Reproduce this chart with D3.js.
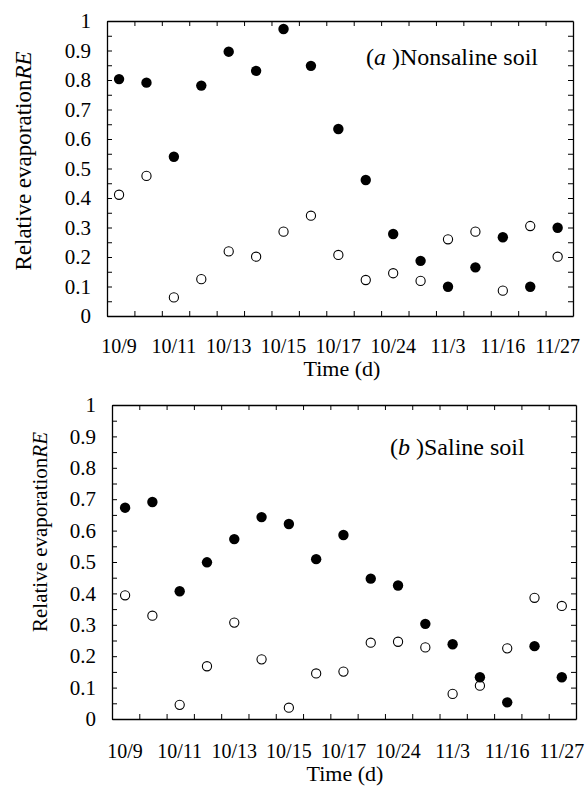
<!DOCTYPE html>
<meta charset="utf-8">
<script src="https://d3js.org/d3.v7.min.js"></script>
<style>
  body { margin: 0; background: #fff; }
  svg, svg text, svg tspan { font-family: "Liberation Serif", "DejaVu Serif", "Times New Roman", Times, serif !important; fill: #000; }
</style>
<div id="chart"></div>
<script>
// dates shown under every second point
var tickLabels = ["10/9", "10/11", "10/13", "10/15", "10/17", "10/24", "11/3", "11/16", "11/27"];

// (a) nonsaline soil
var nonsalineFilled = [0.803, 0.791, 0.540, 0.781, 0.896, 0.831, 0.973, 0.848, 0.634, 0.461,
                       0.278, 0.187, 0.099, 0.165, 0.267, 0.099, 0.299];
var nonsalineOpen   = [0.411, 0.475, 0.063, 0.125, 0.219, 0.201, 0.286, 0.340, 0.207, 0.122,
                       0.145, 0.119, 0.260, 0.286, 0.086, 0.305, 0.201];

// (b) saline soil
var salineFilled = [0.673, 0.691, 0.407, 0.499, 0.573, 0.643, 0.621, 0.509, 0.586, 0.447,
                    0.425, 0.303, 0.238, 0.133, 0.053, 0.232, 0.133];
var salineOpen   = [0.394, 0.329, 0.045, 0.168, 0.307, 0.190, 0.036, 0.145, 0.151, 0.243,
                    0.246, 0.228, 0.080, 0.106, 0.225, 0.386, 0.360];

var svg = d3.select("#chart").append("svg")
    .attr("width", 586)
    .attr("height", 786)
    .attr("font-family", "Liberation Serif, serif");

var panels = [
  { filled: nonsalineFilled, open: nonsalineOpen, label: "Nonsaline soil", letter: "a",
    left: 107, right: 573, top: 21, bottom: 316, offset: 0.44,
    yTitleX: 31, yTitleY: 161, yTitleSize: 23,
    tickY: 353, xTitleX: 342, xTitleY: 376, noteX: 366, noteY: 65 },
  { filled: salineFilled, open: salineOpen, label: "Saline soil", letter: "b",
    left: 112, right: 576, top: 405, bottom: 719, offset: 0.48,
    yTitleX: 47, yTitleY: 532, yTitleSize: 21,
    tickY: 758, xTitleX: 345, xTitleY: 781, noteX: 390, noteY: 455 }
];

panels.forEach(function(p) {
  var n = p.filled.length;
  var x = d3.scaleLinear().domain([0, n]).range([p.left, p.right]);
  var y = d3.scaleLinear().domain([0, 1]).range([p.bottom, p.top]);

  var yTicks = d3.range(0, 21).map(function(i) { return i / 20; });
  var xTicks = d3.range(1, n);
  var fmt = function(d) {
    return Math.round(d * 20) % 2 ? "" : String(+d.toFixed(1));
  };

  // frame with inward ticks on all four sides
  var gl = svg.append("g").attr("transform", "translate(" + p.left + ",0)")
    .call(d3.axisLeft(y).tickValues(yTicks).tickFormat(fmt)
      .tickSizeInner(-5).tickSizeOuter(0).tickPadding(16));
  gl.attr("font-family", null);
  gl.selectAll("text").style("font-size", "21px");

  svg.append("g").attr("transform", "translate(" + p.right + ",0)")
    .call(d3.axisRight(y).tickValues(yTicks).tickFormat("")
      .tickSizeInner(-5).tickSizeOuter(0));

  svg.append("g").attr("transform", "translate(0," + p.top + ")")
    .call(d3.axisTop(x).tickValues(xTicks).tickFormat("")
      .tickSizeInner(-5).tickSizeOuter(0));

  svg.append("g").attr("transform", "translate(0," + p.bottom + ")")
    .call(d3.axisBottom(x).tickValues(xTicks).tickFormat("")
      .tickSizeInner(-5).tickSizeOuter(0));

  svg.selectAll(".domain").attr("stroke-width", 1.3);

  // date labels under every second point
  svg.append("g").selectAll("text")
    .data(tickLabels)
    .join("text")
      .attr("x", function(d, i) { return x(i * 2 + p.offset); })
      .attr("y", p.tickY)
      .attr("text-anchor", "middle")
      .style("font-size", "20px")
      .text(function(d) { return d; });

  // open circles
  svg.append("g").selectAll("circle")
    .data(p.open)
    .join("circle")
      .attr("cx", function(d, i) { return x(i + p.offset); })
      .attr("cy", function(d) { return y(d); })
      .attr("r", 4.6)
      .attr("fill", "#fff")
      .attr("stroke", "#000")
      .attr("stroke-width", 1.1);

  // filled circles
  svg.append("g").selectAll("circle")
    .data(p.filled)
    .join("circle")
      .attr("cx", function(d, i) { return x(i + p.offset); })
      .attr("cy", function(d) { return y(d); })
      .attr("r", 5.2)
      .attr("fill", "#000");

  // axis titles
  var yt = svg.append("text")
    .attr("transform", "translate(" + p.yTitleX + "," + p.yTitleY + ") rotate(-90)")
    .attr("text-anchor", "middle")
    .style("font-size", p.yTitleSize + "px");
  yt.append("tspan").text("Relative evaporation");
  yt.append("tspan").style("font-style", "italic").text("RE");

  svg.append("text")
    .attr("x", p.xTitleX)
    .attr("y", p.xTitleY)
    .attr("text-anchor", "middle")
    .style("font-size", "22px")
    .text("Time (d)");

  // panel note
  var note = svg.append("text")
    .attr("x", p.noteX)
    .attr("y", p.noteY)
    .style("font-size", "24px");
  note.append("tspan").text("(");
  note.append("tspan").style("font-style", "italic").text(p.letter + " ");
  note.append("tspan").text(")" + p.label);
});
</script>
